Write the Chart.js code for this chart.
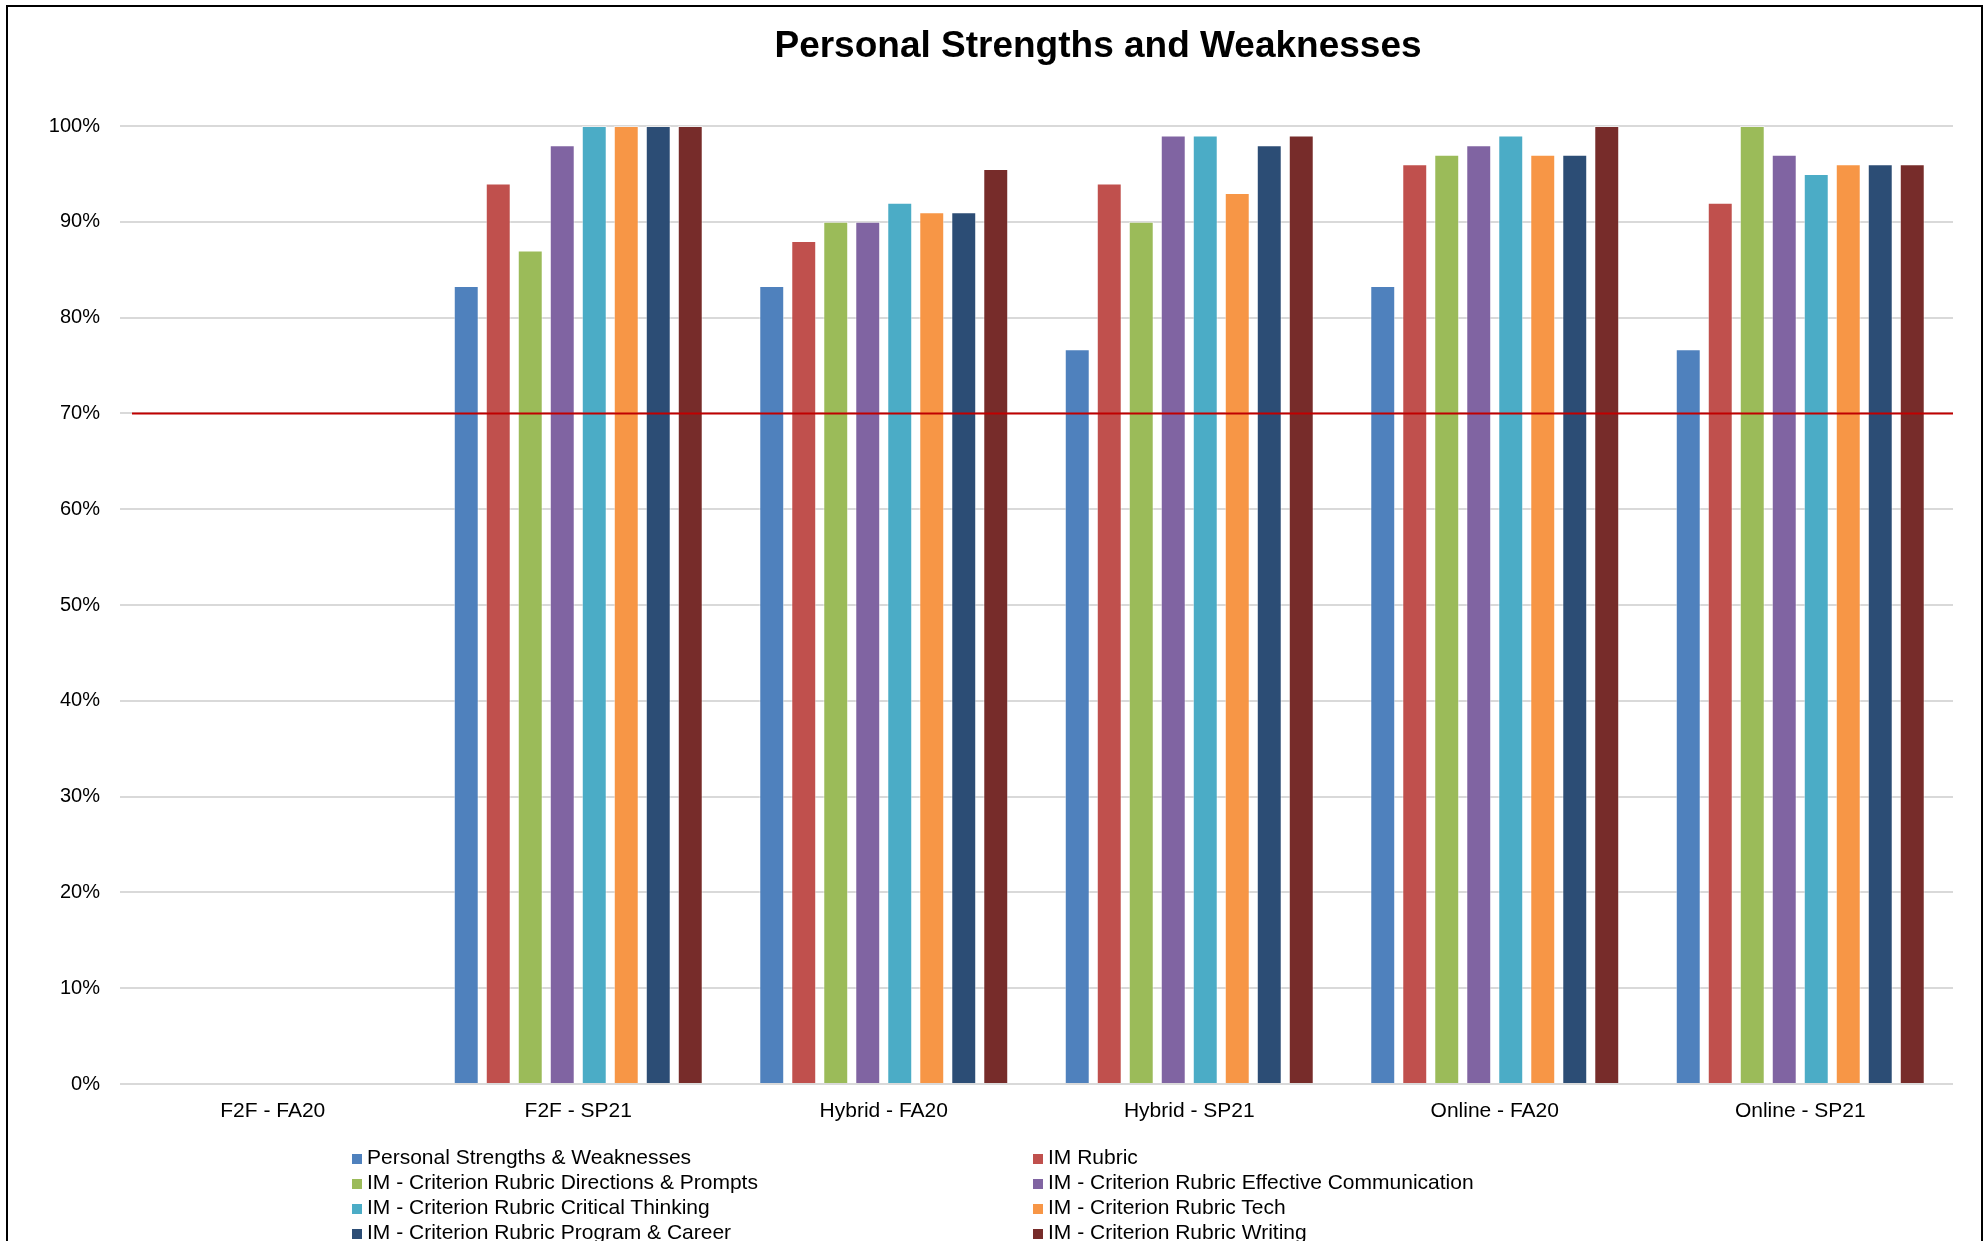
<!DOCTYPE html>
<html>
<head>
<meta charset="utf-8">
<title>Personal Strengths and Weaknesses</title>
<script src="https://cdn.jsdelivr.net/npm/chart.js@4.4.1/dist/chart.umd.min.js"></script>
<style>
  html, body { margin: 0; padding: 0; background: #fff; overflow: hidden; }
  body { width: 1984px; height: 1241px; position: relative; font-family: "Liberation Sans", Arial, sans-serif; }
  #frame { position: absolute; left: 6px; top: 5px; width: 1977px; height: 1400px; border: 2px solid #000; box-sizing: border-box; }
  #wrap { position: absolute; left: 0; top: 0; width: 1984px; height: 1241px; }
  #legend { position: absolute; left: 352px; top: 1144px; display: grid; grid-template-columns: 681px 700px; }
  #legend div { height: 25px; line-height: 25px; font-size: 21px; color: #000; white-space: nowrap; }
  #legend span { display: inline-block; width: 10px; height: 10px; margin-right: 5px; vertical-align: 0px; }
</style>
</head>
<body>
<div id="frame"></div>
<div id="wrap"><canvas id="chart" width="1984" height="1241"></canvas></div>
<div id="legend"></div>
<script>
// categories and series (percent)
const categories = ['F2F - FA20', 'F2F - SP21', 'Hybrid - FA20', 'Hybrid - SP21', 'Online - FA20', 'Online - SP21'];

const seriesNames = [
  'Personal Strengths & Weaknesses',
  'IM Rubric',
  'IM - Criterion Rubric Directions & Prompts',
  'IM - Criterion Rubric Effective Communication',
  'IM - Criterion Rubric Critical Thinking',
  'IM - Criterion Rubric Tech',
  'IM - Criterion Rubric Program & Career',
  'IM - Criterion Rubric Writing'
];

const personalStrengths = [null, 83.3, 83.3, 76.7, 83.3, 76.7];
const imRubric = [null, 94, 88, 94, 96, 92];
const directionsPrompts = [null, 87, 90, 90, 97, 100];
const effectiveCommunication = [null, 98, 90, 99, 98, 97];
const criticalThinking = [null, 100, 92, 99, 99, 95];
const tech = [null, 100, 91, 93, 97, 96];
const programCareer = [null, 100, 91, 98, 97, 96];
const writing = [null, 100, 95.5, 99, 100, 96];

const yTicks = [0, 10, 20, 30, 40, 50, 60, 70, 80, 90, 100];
const targetLine = 70;

const colors = ['#4F81BD', '#C0504D', '#9BBB59', '#8064A2', '#4BACC6', '#F79646', '#2C4D75', '#772C2A'];
const seriesValues = [personalStrengths, imRubric, directionsPrompts, effectiveCommunication,
  criticalThinking, tech, programCareer, writing];

const FONT = '"Liberation Sans", Arial, sans-serif';

// title drawn a bit right of centre, like the original
const titlePlugin = {
  id: 'sheetTitle',
  afterDraw(chart) {
    const ctx = chart.ctx;
    ctx.save();
    ctx.font = 'bold 37px ' + FONT;
    ctx.fillStyle = '#000';
    ctx.textAlign = 'center';
    ctx.textBaseline = 'middle';
    ctx.fillText('Personal Strengths and Weaknesses', 1098, 47);
    ctx.restore();
  }
};

// red 70% target line over the bars
const targetPlugin = {
  id: 'targetLine',
  afterDatasetsDraw(chart) {
    const ctx = chart.ctx;
    const area = chart.chartArea;
    const y = chart.scales.y.getPixelForValue(targetLine);
    ctx.save();
    ctx.strokeStyle = '#C00000';
    ctx.lineWidth = 2;
    ctx.beginPath();
    ctx.moveTo(area.left + 12, y);
    ctx.lineTo(area.right, y);
    ctx.stroke();
    ctx.restore();
  }
};

const ctx = document.getElementById('chart').getContext('2d');

const myChart = new Chart(ctx, {
  type: 'bar',
  data: {
    labels: categories,
    datasets: seriesNames.map((name, i) => ({
      label: name,
      data: seriesValues[i],
      backgroundColor: colors[i],
      borderColor: 'rgba(255, 255, 255, 0.5)',
      borderWidth: 1,
      categoryPercentage: 0.838,
      barPercentage: 0.78
    }))
  },
  options: {
    responsive: false,
    animation: false,
    layout: {
      padding: { left: 0, right: 31, top: 126, bottom: 0 }
    },
    scales: {
      x: {
        grid: { display: false },
        border: { display: false },
        ticks: {
          color: '#000',
          font: { family: FONT, size: 21 },
          padding: 7,
          maxRotation: 0
        },
        afterFit: (scale) => { scale.height = 157; }
      },
      y: {
        min: 0,
        max: 100,
        afterBuildTicks: (scale) => { scale.ticks = yTicks.map(v => ({ value: v })); },
        ticks: {
          color: '#000',
          font: { family: FONT, size: 20 },
          padding: 20,
          callback: (v) => v + '%'
        },
        grid: { color: '#D9D9D9', lineWidth: 2, drawTicks: false },
        border: { display: false },
        afterFit: (scale) => { scale.width = 120; }
      }
    },
    plugins: {
      legend: { display: false },
      title: { display: false },
      tooltip: { enabled: false }
    }
  },
  plugins: [titlePlugin, targetPlugin]
});

// legend in two columns below the chart
const legendBox = document.getElementById('legend');
myChart.data.datasets.forEach(function (ds) {
  const item = document.createElement('div');
  const swatch = document.createElement('span');
  swatch.style.background = ds.backgroundColor;
  item.appendChild(swatch);
  item.appendChild(document.createTextNode(ds.label));
  legendBox.appendChild(item);
});
</script>
</body>
</html>
